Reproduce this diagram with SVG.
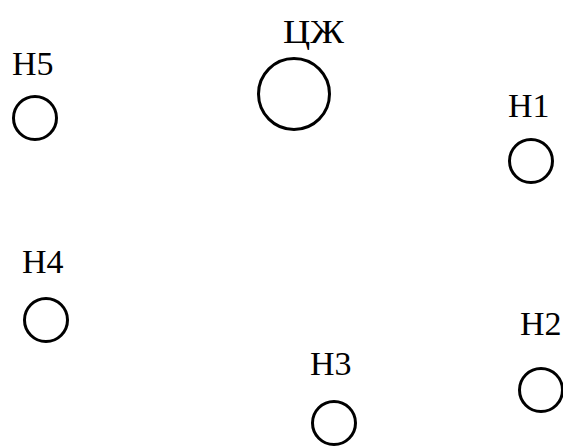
<svg xmlns="http://www.w3.org/2000/svg" width="563" height="446" viewBox="0 0 563 446">
<style>
text{font-family:"Liberation Serif","Times New Roman",serif;font-size:34px;fill:#000}
circle{fill:none;stroke:#000;stroke-width:3}
</style>
<rect width="563" height="446" fill="#fff"/>
<g id="CZh"><text x="283" y="43" textLength="61" lengthAdjust="spacingAndGlyphs">ЦЖ</text><circle cx="294" cy="94" r="35.5"/></g>
<g id="N5"><text x="12" y="75">Н5</text><circle cx="35" cy="118" r="21.5"/></g>
<g id="N1"><text x="508" y="117">Н1</text><circle cx="531" cy="161" r="21.5"/></g>
<g id="N4"><text x="22" y="273">Н4</text><circle cx="46" cy="320" r="21.5"/></g>
<g id="N2"><text x="520" y="335">Н2</text><circle cx="541" cy="390" r="21.5"/></g>
<g id="N3"><text x="310" y="375">Н3</text><circle cx="334" cy="423" r="21.5"/></g>
<g id="connectors"></g>
</svg>
